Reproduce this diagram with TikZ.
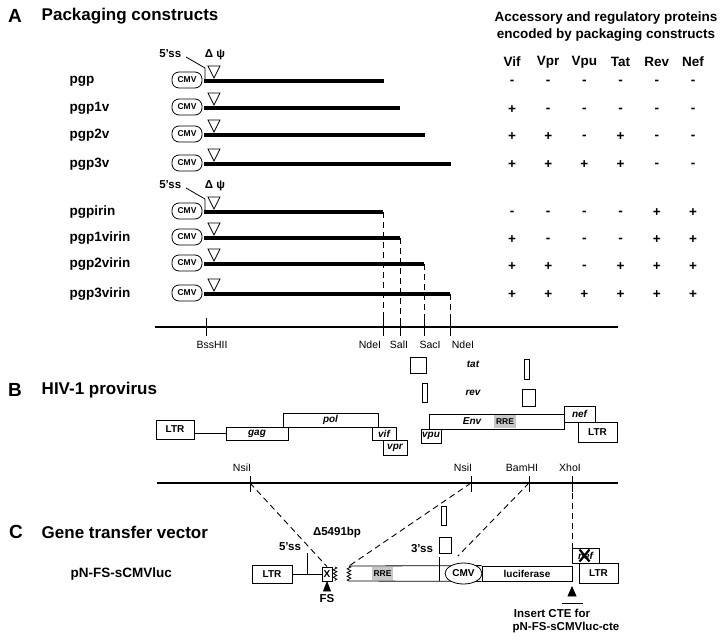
\documentclass[tikz,border=0pt]{standalone}
\usepackage{fontspec}
\setmainfont{Liberation Sans}
\usetikzlibrary{shapes.geometric,decorations.pathmorphing}
\colorlet{rrecol}{black!22}
\tikzstyle{panel}=[font=\fontsize{19}{22}\selectfont\bfseries]
\tikzstyle{headtitle}=[anchor=west,font=\fontsize{17}{20}\selectfont\bfseries]
\tikzstyle{rowlabel}=[anchor=west,font=\fontsize{13.5}{16}\selectfont\bfseries]
\tikzstyle{sign}=[font=\fontsize{13.5}{16}\selectfont\bfseries]
\tikzstyle{small}=[font=\fontsize{11.5}{13}\selectfont\bfseries]
\tikzstyle{site}=[font=\fontsize{10.5}{12}\selectfont]
\tikzstyle{box}=[draw,line width=0.8pt,inner sep=0pt,fill=white,font=\fontsize{10}{12}\selectfont\bfseries]
\tikzstyle{gene}=[box,font=\fontsize{10}{12}\selectfont\bfseries\itshape]
\tikzstyle{cmvbox}=[draw,line width=0.8pt,rounded corners=7,minimum width=30,minimum height=16,inner sep=0pt,font=\fontsize{8.5}{10}\selectfont\bfseries]
\tikzstyle{construct}=[line width=3.6pt]
\tikzstyle{cutline}=[line width=0.9pt,dash pattern=on 6pt off 4pt]
\tikzstyle{mapline}=[line width=1.8pt]
\tikzstyle{wavy}=[decorate,decoration={zigzag,segment length=3.75pt,amplitude=1.8pt}]

\begin{document}
\begin{tikzpicture}[x=1pt,y=-1pt,line width=0.8pt]
  \useasboundingbox (0,0) rectangle (722,640);

  % A: packaging constructs
  \node[panel] (pA) at (15,16) {A};
  \node[headtitle] (tA) at (38,16) {Packaging constructs};
  \foreach \y/\e/\n in {81/384/pgp,108/400/pgp1v,135/425/pgp2v,164/451/pgp3v,
                        212/383/pgpirin,238/400/pgp1virin,264/424/pgp2virin,294/450/pgp3virin}{
    \node[rowlabel] (l-\n) at (66,\y) {\n};
    \node[cmvbox] (cmv-\n) at (187,\y-1) {CMV};
    \coordinate (s-\n) at (204,\y);
    \coordinate (e-\n) at (\e,\y);
    \draw[construct] (s-\n) -- (e-\n);
    \draw[fill=white] (208,\y-15) -- (220,\y-15) -- (214,\y-3) -- cycle;
  }
  \foreach \y in {81,212}{
    \node[small,anchor=east] (ss\y) at (185,\y-27) {5'ss};
    \node[small] (psi\y) at (215,\y-26) {Δ ψ};
    \draw (186,\y-24) -- (205,\y-13) -- (205,\y);
  }

  \coordinate (mA0) at (155,327);
  \coordinate (mA1) at (618,327);
  \draw[mapline] (mA0) -- (mA1);
  \foreach \n in {pgpirin,pgp1virin,pgp2virin,pgp3virin}
    \draw[cutline] (e-\n) -- (e-\n |- mA0);
  \foreach \x/\lx/\t in {206/212/BssHII,383/370/NdeI,400/399/SalI,424/430/SacI,450/463/NdeI}{
    \draw (\x,318) -- (\x,336);
    \node[site] (ra-\x) at (\lx,345) {\t};
  }

  % table of accessory proteins
  \node[sign] (acc1) at (606,18) {Accessory and regulatory proteins};
  \node[sign] (acc2) at (606,35) {encoded by packaging constructs};
  \foreach \t [count=\i] in {Vif,Vpr,Vpu,Tat,Rev,Nef}
    \node[sign] (h\i) at (475.8+36.2*\i,62) {\t};
  \foreach \y/\row in {82/{-,-,-,-,-,-},110/{+,-,-,-,-,-},137/{+,+,-,+,-,-},165/{+,+,+,+,-,-},
                       213/{-,-,-,-,+,+},240/{+,-,-,-,+,+},267/{+,+,-,+,+,+},295/{+,+,+,+,+,+}}
    \foreach \s [count=\i] in \row
      \node[sign] (v\y-\i) at (475.8+36.2*\i,\y) {\s};

  % B: HIV-1 provirus
  \node[panel] (pB) at (15,390) {B};
  \node[headtitle] (tB) at (38,390) {HIV-1 provirus};
  \node[box,minimum width=16,minimum height=16] (tat1) at (418,365) {};
  \node[box,minimum width=5,minimum height=20] (tat2) at (526.5,369) {};
  \node[box,minimum width=5,minimum height=19] (rev1) at (424.5,392.5) {};
  \node[box,minimum width=13,minimum height=17] (rev2) at (528.5,397.5) {};
  \node[gene,draw=none,fill=none] (tat) at (473,364) {tat};
  \node[gene,draw=none,fill=none] (rev) at (473,393) {rev};

  \node[box,minimum width=38,minimum height=19] (ltr1) at (175,429.5) {LTR};
  \node[gene,minimum width=62,minimum height=13] (gag) at (257,433.5) {gag};
  \draw (ltr1.east |- gag.west) -- (gag.west);
  \node[gene,minimum width=95,minimum height=14] (pol) at (330.5,420) {pol};
  \node[gene,minimum width=24,minimum height=13] (vif) at (384,433.5) {vif};
  \node[gene,minimum width=24,minimum height=15] (vpr) at (395,447.5) {vpr};
  \node[gene,minimum width=135,minimum height=15] (env) at (496.5,421.5) {};
  \node[gene,draw=none,fill=none] (envt) at (472,421.5) {Env};
  \node[fill=rrecol,minimum width=22,minimum height=13,inner sep=0pt,
        font=\fontsize{8.5}{10}\selectfont\bfseries] (rre1) at (505,421.5) {RRE};
  \node[gene,minimum width=20,minimum height=14] (vpu) at (431,436) {vpu};
  \node[gene,minimum width=31,minimum height=16] (nef) at (579.5,414) {nef};
  \node[box,minimum width=39,minimum height=20] (ltr2) at (597.5,432) {LTR};

  \coordinate (mB0) at (157,483);
  \coordinate (mB1) at (618,483);
  \draw[mapline] (mB0) -- (mB1);
  \foreach \x/\lx/\t in {250/242/NsiI,471/463/NsiI,529/522/BamHI,572/570/XhoI}{
    \draw (\x,476) -- (\x,492);
    \coordinate (rb-\x) at (\x,483);
    \node[site] (nb-\x) at (\lx,468) {\t};
  }

  % C: gene transfer vector
  \node[panel] (pC) at (16,532) {C};
  \node[headtitle] (tC) at (38,532) {Gene transfer vector};
  \node[rowlabel] (lvec) at (67,574) {pN-FS-sCMVluc};

  \node[box,minimum width=40,minimum height=18] (ltr3) at (272,574) {LTR};
  \node[box,minimum width=10,minimum height=14] (xbox) at (327,574) {X};
  \draw (ltr3) -- (xbox);
  \draw[wavy] (335,567) -- (335,581);
  \draw (307,553) -- (307,574);
  \node[small] (ss5) at (290,547) {5'ss};
  \draw[fill=black] (327,582) -- (323.5,591) -- (330.5,591) -- cycle;
  \node[small] (fs) at (327,599) {FS};
  \node[small] (del) at (337,533) {Δ5491bp};

  \node[box,minimum width=90,minimum height=15] (luc) at (527,573.5) {luciferase};
  \coordinate (wt) at (349,566);
  \coordinate (wb) at (349,581);
  \draw[wavy] (wt) -- (wb);
  \draw (wt) -- (luc.north west);
  \draw (wb) -- (luc.south west);
  \node[fill=rrecol,minimum width=21,minimum height=13,inner sep=0pt,
        font=\fontsize{8.5}{10}\selectfont\bfseries] (rre2) at (382.5,573.5) {RRE};
  \draw (439,557) -- (439,581);
  \node[small] (ss3) at (422,549) {3'ss};
  \node[box,minimum width=5,minimum height=19] (tat3) at (443.5,515.5) {};
  \node[box,minimum width=12,minimum height=16] (rev3) at (445,545) {};
  \node[box,ellipse,minimum width=37,minimum height=21,font=\fontsize{10}{12}\selectfont\bfseries] (cmv3) at (463.5,573.5) {CMV};

  \node[gene,minimum width=27,minimum height=15] (nefx) at (585.5,555.5) {nef};
  \draw[line width=2.2pt] (579.5,549.5) -- (589.5,561.5) (589.5,549.5) -- (579.5,561.5);
  \node[box,minimum width=39,minimum height=20] (ltr4) at (598.5,573) {LTR};

  \coordinate (bt) at (458,556);
  \draw[cutline] (rb-250) -- (xbox.north);
  \draw[cutline] (rb-471) -- (wt);
  \draw[cutline] (rb-529) -- (bt);
  \draw[cutline] (rb-572) -- (rb-572 |- nefx.north);

  \draw[fill=black] (572,587) -- (568,596) -- (576,596) -- cycle;
  \draw (562,603) -- (583,603);
  \node[small] (cte1) at (552,613) {Insert CTE for};
  \node[small] (cte2) at (566,628) {pN-FS-sCMVluc-cte};
\end{tikzpicture}
\end{document}
